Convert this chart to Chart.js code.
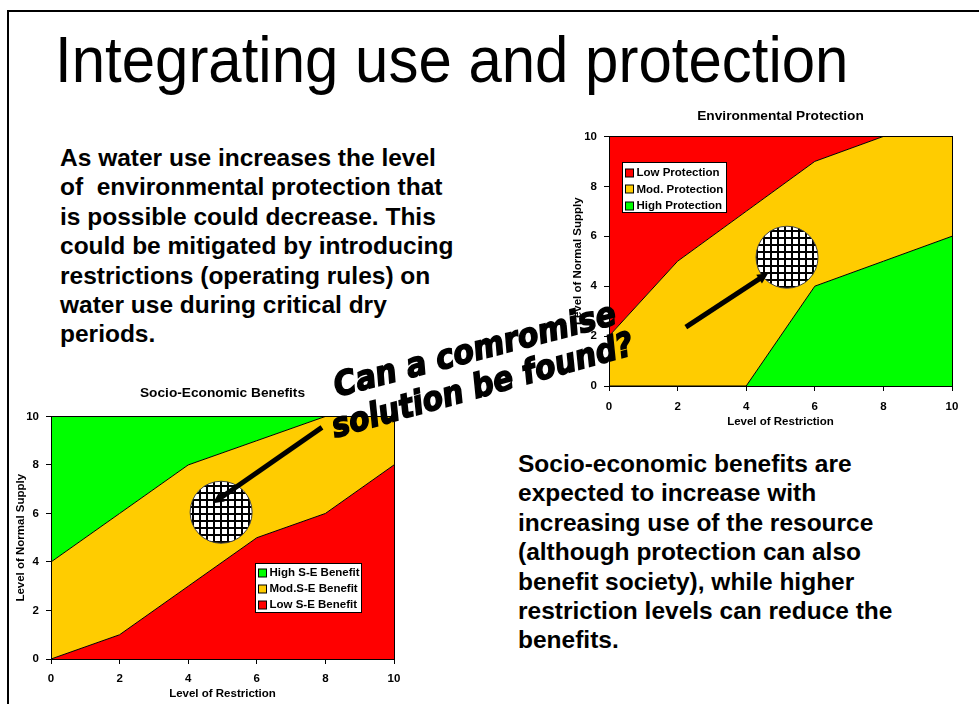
<!DOCTYPE html>
<html>
<head>
<meta charset="utf-8">
<script src="https://cdn.jsdelivr.net/npm/chart.js@4.4.1/dist/chart.umd.min.js"></script>
<style>
  body { margin: 0; width: 979px; height: 704px; overflow: hidden; position: relative; background: #fff;
         font-family: "Liberation Sans", Arial, sans-serif; color: #000; }
  .frame { position: absolute; left: 7px; top: 10px; width: 1000px; height: 800px;
           border-left: 2px solid #000; border-top: 2px solid #000; }
  .title { position: absolute; left: 55px; top: 28px; font-size: 64px; line-height: 64px; white-space: nowrap;
           transform-origin: 0 0; transform: scaleX(0.937); }
  .para { position: absolute; font-weight: bold; font-size: 24.5px; line-height: 29.4px; white-space: nowrap; }
  .chart-box { position: absolute; }
  #envBox { left: 560px; top: 104px; width: 419px; height: 330px; }
  #seBox { left: 10px; top: 380px; width: 410px; height: 324px; }
  .question { position: absolute; white-space: nowrap; font: italic bold 31px "DejaVu Sans";
              transform-origin: 0 100%; -webkit-text-stroke: 1.5px #000; z-index: 5; }
</style>
</head>
<body>
<div class="frame"></div>
<div class="title">Integrating use and protection</div>
<div class="para" style="left:60px; top:143px;">
  As water use increases the level<br>
  of&nbsp; environmental protection that<br>
  is possible could decrease. This<br>
  could be mitigated by introducing<br>
  restrictions (operating rules) on<br>
  water use during critical dry<br>
  periods.
</div>
<div class="para" style="left:518px; top:449px;">
  Socio-economic benefits are<br>
  expected to increase with<br>
  increasing use of the resource<br>
  (although protection can also<br>
  benefit society), while higher<br>
  restriction levels can reduce the<br>
  benefits.
</div>

<div class="chart-box" id="envBox"><canvas id="envChart"></canvas></div>
<div class="chart-box" id="seBox"><canvas id="seChart"></canvas></div>

<div class="question" style="left:339px; top:368px; transform: rotate(-14.6deg) scale(0.97, 1.08);">Can a comromise</div>
<div class="question" style="left:337px; top:409px; transform: rotate(-15.6deg) scale(0.96, 1.08);">solution be found?</div>

<script>
// ===== Data =====
const restriction = [0, 2, 4, 6, 8, 10];
const supplyTicks = [0, 2, 4, 6, 8, 10];

// Environmental Protection, stacked from the bottom
const envHigh = [0, 0, 0, 4, 5, 6];
const envMod = [2, 5, 7, 5, 5, 4];
const envLow = [8, 5, 3, 1, 0, 0];

// Socio-Economic Benefits, stacked from the bottom
const seLow = [0, 1, 3, 5, 6, 8];
const seMod = [4, 5, 5, 4, 4, 2];
const seHigh = [6, 4, 2, 1, 0, 0];

const RED = '#ff0000';
const AMBER = '#ffcc00';
const GREEN = '#00ff00';
const FONT = 'Liberation Sans';

function series(label, values, color, fill) {
  return {
    label: label,
    data: restriction.map((x, i) => ({ x: x, y: values[i] })),
    backgroundColor: color,
    borderColor: '#000',
    borderWidth: 1,
    pointRadius: 0,
    tension: 0,
    fill: fill
  };
}

// grid pattern used inside the "compromise" circles
const patCanvas = document.createElement('canvas');
patCanvas.width = 7; patCanvas.height = 7;
const pg = patCanvas.getContext('2d');
pg.fillStyle = '#fff'; pg.fillRect(0, 0, 7, 7);
pg.fillStyle = '#000'; pg.fillRect(0, 0, 7, 2); pg.fillRect(0, 0, 2, 7);

// ===== Plugins =====
const plotFrame = {
  id: 'plotFrame',
  afterDatasetsDraw(chart) {
    const a = chart.chartArea, ctx = chart.ctx;
    ctx.save();
    ctx.strokeStyle = '#000';
    ctx.lineWidth = 1;
    ctx.strokeRect(Math.round(a.left) + 0.5, Math.round(a.top) + 0.5,
                   Math.round(a.right - a.left), Math.round(a.bottom - a.top));
    ctx.restore();
  }
};

const focusMark = {
  id: 'focusMark',
  afterDraw(chart, args, opts) {
    if (!opts.center) return;
    const ctx = chart.ctx, xs = chart.scales.x, ys = chart.scales.y;
    const cx = xs.getPixelForValue(opts.center[0]), cy = ys.getPixelForValue(opts.center[1]);
    ctx.save();
    ctx.beginPath();
    ctx.arc(cx, cy, opts.radius, 0, Math.PI * 2);
    ctx.fillStyle = ctx.createPattern(patCanvas, 'repeat');
    ctx.fill();
    ctx.strokeStyle = '#444';
    ctx.lineWidth = 1;
    ctx.stroke();

    // arrow
    const x1 = xs.getPixelForValue(opts.from[0]), y1 = ys.getPixelForValue(opts.from[1]);
    const x2 = xs.getPixelForValue(opts.to[0]), y2 = ys.getPixelForValue(opts.to[1]);
    const ang = Math.atan2(y2 - y1, x2 - x1);
    const head = 12;
    ctx.strokeStyle = '#000';
    ctx.lineWidth = 5;
    ctx.beginPath();
    ctx.moveTo(x1, y1);
    ctx.lineTo(x2 - Math.cos(ang) * head * 0.8, y2 - Math.sin(ang) * head * 0.8);
    ctx.stroke();
    ctx.fillStyle = '#000';
    ctx.beginPath();
    ctx.moveTo(x2, y2);
    ctx.lineTo(x2 - head * Math.cos(ang - 0.45), y2 - head * Math.sin(ang - 0.45));
    ctx.lineTo(x2 - head * Math.cos(ang + 0.45), y2 - head * Math.sin(ang + 0.45));
    ctx.closePath();
    ctx.fill();
    ctx.restore();
  }
};

const boxLegend = {
  id: 'boxLegend',
  afterDraw(chart, args, opts) {
    const ctx = chart.ctx, a = chart.chartArea;
    const left = Math.round(a.left + opts.dx) + 0.5, top = Math.round(a.top + opts.dy) + 0.5;
    ctx.save();
    ctx.fillStyle = '#fff';
    ctx.fillRect(left, top, opts.width, opts.height);
    ctx.strokeStyle = '#000';
    ctx.lineWidth = 1;
    ctx.strokeRect(left, top, opts.width, opts.height);
    ctx.font = 'bold 11.5px "' + FONT + '"';
    ctx.textBaseline = 'middle';
    opts.order.forEach((di, row) => {
      const ds = chart.data.datasets[di];
      const y = top + opts.firstRow + row * opts.rowGap;
      ctx.fillStyle = ds.backgroundColor;
      ctx.fillRect(left + 3, Math.round(y - 4), 8, 8);
      ctx.strokeRect(left + 3, Math.round(y - 4), 8, 8);
      ctx.fillStyle = '#000';
      ctx.fillText(ds.label, left + 14, y + 0.5);
    });
    ctx.restore();
  }
};

function scales(opt) {
  const tickFont = { family: FONT, weight: 'bold', size: 11.5 };
  const titleFont = { family: FONT, weight: 'bold', size: 11.5 };
  return {
    x: {
      type: 'linear', min: 0, max: 10,
      afterBuildTicks: s => { s.ticks = restriction.map(v => ({ value: v })); },
      afterFit: s => { s.height = opt.xHeight; },
      grid: { display: true, drawOnChartArea: false, tickLength: 5, color: '#000' },
      border: { display: true, color: '#000', width: 1 },
      ticks: { font: tickFont, color: '#000', padding: opt.xTickPad, maxRotation: 0 },
      title: { display: true, text: 'Level of Restriction', font: titleFont, color: '#000',
               padding: { top: 0, bottom: opt.xTitlePad } }
    },
    y: {
      type: 'linear', min: 0, max: 10, stacked: true,
      afterBuildTicks: s => { s.ticks = supplyTicks.map(v => ({ value: v })); },
      afterFit: s => { s.width = opt.yWidth; },
      grid: { display: true, drawOnChartArea: false, tickLength: 5, color: '#000' },
      border: { display: true, color: '#000', width: 1 },
      ticks: { font: tickFont, color: '#000', padding: 7 },
      title: { display: true, text: 'Level of Normal Supply', font: titleFont, color: '#000',
               padding: { top: opt.yTitlePad, bottom: 0 } }
    }
  };
}

// ===== Environmental Protection =====
new Chart(document.getElementById('envChart').getContext('2d'), {
  type: 'line',
  data: {
    datasets: [
      series('High Protection', envHigh, GREEN, 'origin'),
      series('Mod. Protection', envMod, AMBER, '-1'),
      series('Low Protection', envLow, RED, '-1')
    ]
  },
  options: {
    responsive: true,
    maintainAspectRatio: false,
    animation: false,
    layout: { padding: { left: 0, right: 27, top: 0, bottom: 0 } },
    scales: scales({ xHeight: 48, yWidth: 49, xTickPad: 9, xTitlePad: 5, yTitlePad: 11 }),
    plugins: {
      legend: { display: false },
      tooltip: { enabled: false },
      title: { display: true, fullSize: false, text: 'Environmental Protection', color: '#000',
               font: { family: FONT, weight: 'bold', size: 13.7 }, padding: { top: 4, bottom: 12 } },
      boxLegend: { dx: 13, dy: 26, width: 104, height: 50, firstRow: 10, rowGap: 16.5, order: [2, 1, 0] },
      focusMark: { center: [5.19, 5.16], radius: 31, from: [2.24, 2.36], to: [4.64, 4.52] }
    }
  },
  plugins: [plotFrame, focusMark, boxLegend]
});

// ===== Socio-Economic Benefits =====
new Chart(document.getElementById('seChart').getContext('2d'), {
  type: 'line',
  data: {
    datasets: [
      series('Low S-E Benefit', seLow, RED, 'origin'),
      series('Mod.S-E Benefit', seMod, AMBER, '-1'),
      series('High S-E Benefit', seHigh, GREEN, '-1')
    ]
  },
  options: {
    responsive: true,
    maintainAspectRatio: false,
    animation: false,
    layout: { padding: { left: 0, right: 26, top: 0, bottom: 0 } },
    scales: scales({ xHeight: 45, yWidth: 41, xTickPad: 8, xTitlePad: 3, yTitlePad: 4 }),
    plugins: {
      legend: { display: false },
      tooltip: { enabled: false },
      title: { display: true, fullSize: false, text: 'Socio-Economic Benefits', color: '#000',
               font: { family: FONT, weight: 'bold', size: 13.7 }, padding: { top: 5, bottom: 15 } },
      boxLegend: { dx: 204, dy: 147, width: 106, height: 49, firstRow: 9, rowGap: 16, order: [2, 1, 0] },
      focusMark: { center: [4.96, 6.05], radius: 31, from: [7.9, 9.55], to: [4.72, 6.42] }
    }
  },
  plugins: [plotFrame, focusMark, boxLegend]
});
</script>
</body>
</html>
